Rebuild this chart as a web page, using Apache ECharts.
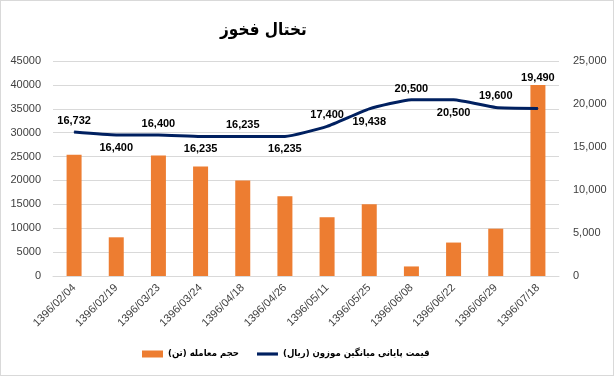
<!DOCTYPE html>
<html>
<head>
<meta charset="utf-8">
<script src="https://cdn.jsdelivr.net/npm/echarts@6/dist/echarts.min.js"></script>
<style>
html,body{margin:0;padding:0;background:#fff;}
#main{width:612px;height:374px;border:1px solid #d9d9d9;}
</style>
</head>
<body>
<div id="main"></div>
<script>
var dates = ['1396/02/04','1396/02/19','1396/03/23','1396/03/24','1396/04/18','1396/04/26','1396/05/11','1396/05/25','1396/06/08','1396/06/22','1396/06/29','1396/07/18'];
var volume = [25400, 8100, 25200, 22900, 20000, 16700, 12300, 15000, 2000, 7000, 9900, 40000];
var price = [16732, 16400, 16400, 16235, 16235, 16235, 17400, 19438, 20500, 20500, 19600, 19490];
// label side for each price label (style only)
var labelSide = ['top','bottom','top','bottom','top','bottom','top','bottom','top','bottom','top','top'];

var Mychart = echarts.init(document.getElementById('main'));
var txt = '#404040';
var option = {
    backgroundColor:'#fff',
    animation:false,
    title:{
        text:'تختال فخوز',
        left:214,
        top:16,
        textStyle:{fontFamily:'DejaVu Sans Condensed',fontWeight:'bold',fontSize:17,color:'#000'}
    },
    legend:{
        bottom:11,
        left:136,
        itemWidth:21,
        itemHeight:7,
        itemGap:18,
        textStyle:{fontFamily:'DejaVu Sans Condensed',fontWeight:'bold',fontSize:9.5,color:'#000'},
        data:[
            {name:'حجم معامله (تن)',icon:'rect'},
            {name:'قیمت پایانی میانگین موزون (ریال)',icon:'path://M0,0 L20,0 L20,3 L0,3 Z'}
        ]
    },
    grid:{left:52,right:54,top:60,bottom:99},
    xAxis:{
        type:'category',
        data:dates,
        axisLine:{lineStyle:{color:'#d9d9d9'}},
        axisTick:{show:false},
        axisLabel:{rotate:45,color:txt,fontFamily:'Liberation Sans',fontSize:11,interval:0,margin:10}
    },
    yAxis:[{
        type:'value',min:0,max:45000,interval:5000,
        axisLine:{show:false},axisTick:{show:false},
        splitLine:{lineStyle:{color:'#d9d9d9'}},
        axisLabel:{color:txt,fontFamily:'Liberation Sans',fontSize:11,margin:12,
            formatter:function(v){return String(v);}}
    },{
        type:'value',min:0,max:25000,interval:5000,
        axisLine:{show:false},axisTick:{show:false},
        splitLine:{show:false},
        axisLabel:{color:txt,fontFamily:'Liberation Sans',fontSize:11,margin:14,
            formatter:function(v){return v.toLocaleString('en-US');}}
    }],
    series:[{
        name:'حجم معامله (تن)',
        type:'bar',
        data:volume,
        barWidth:15,
        itemStyle:{color:'#ed7d31'}
    },{
        name:'قیمت پایانی میانگین موزون (ریال)',
        type:'line',
        yAxisIndex:1,
        smooth:0.15,
        symbol:'circle',
        symbolSize:1,
        showSymbol:true,
        lineStyle:{color:'#002060',width:3},
        itemStyle:{color:'#002060'},
        data:price.map(function(v,i){
            return {value:v,label:{position:labelSide[i],distance:i==11?24:(labelSide[i]=='top'?5:7)}};
        }),
        label:{
            show:true,
            color:'#000',
            fontFamily:'Liberation Sans',
            fontWeight:'bold',
            fontSize:11,
            formatter:function(p){return p.value.toLocaleString('en-US');}
        }
    }]
};
Mychart.setOption(option);
</script>
</body>
</html>
